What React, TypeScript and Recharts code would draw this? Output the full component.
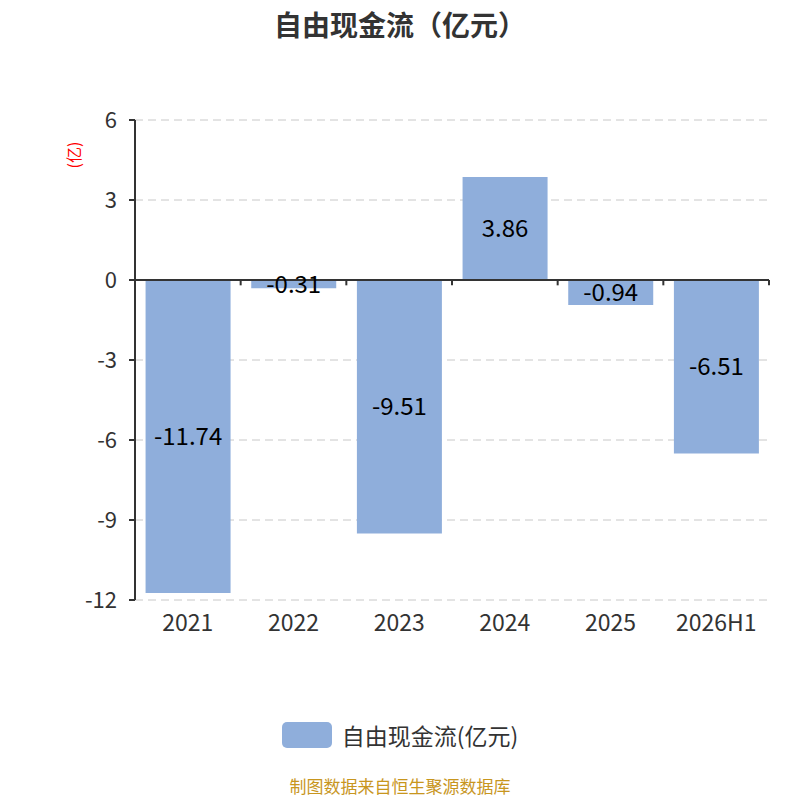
import React from "react";
import {
  BarChart,
  Bar,
  XAxis,
  YAxis,
  CartesianGrid,
  LabelList,
  Legend,
  ReferenceLine,
} from "recharts";

const categories = ["2021", "2022", "2023", "2024", "2025", "2026H1"];
const freeCashFlow = [-11.74, -0.31, -9.51, 3.86, -0.94, -6.51];
const yTicks = [-12, -9, -6, -3, 0, 3, 6];
const seriesName = "自由现金流(亿元)";
const titleText = "自由现金流（亿元）";
const unitText = "(亿)";
const sourceText = "制图数据来自恒生聚源数据库";

const data = categories.map((c, i) => ({ name: c, value: freeCashFlow[i], idx: i + 0.5 }));
const boundaries = categories.map((_, i) => i + 1);

const FONT = '"Noto Sans CJK SC", "Noto Sans", sans-serif';
const BAR_COLOR = "#8FAEDB";
const AXIS_COLOR = "#333333";

const LegendContent = () => (
  <div
    style={{
      display: "flex",
      justifyContent: "center",
      alignItems: "center",
      fontFamily: FONT,
      fontSize: 23,
      color: "#333",
      height: 30,
    }}
  >
    <div
      style={{
        width: 50,
        height: 26,
        borderRadius: 5,
        background: BAR_COLOR,
        marginRight: 10,
      }}
    />
    <span style={{ lineHeight: "30px" }}>{seriesName}</span>
  </div>
);

const UnitLabel = (props: any) => {
  const vb = props.viewBox || { x: 0, y: 120 };
  const x = vb.x + 73;
  const y = vb.y + 35;
  return (
    <text
      x={x}
      y={y}
      transform={`rotate(-90, ${x}, ${y})`}
      textAnchor="middle"
      dominantBaseline="central"
      fill="#ff0000"
      fontSize={16}
      fontFamily={FONT}
    >
      {unitText}
    </text>
  );
};

export default function App() {
  return (
    <div
      style={{
        position: "absolute",
        left: 0,
        top: 0,
        width: 800,
        height: 800,
        background: "#fff",
        fontFamily: FONT,
      }}
    >
      <div
        style={{
          position: "absolute",
          top: 4,
          left: 0,
          width: 800,
          textAlign: "center",
          fontSize: 28,
          fontWeight: "bold",
          color: "#333",
          lineHeight: "40px",
        }}
      >
        {titleText}
      </div>
      <BarChart
        width={800}
        height={800}
        data={data}
        margin={{ top: 120, right: 31, left: 0, bottom: 90 }}
        barCategoryGap="10%"
      >
        <CartesianGrid
          vertical={false}
          stroke="#c8c8c8"
          strokeDasharray="8 5"
        />
        <XAxis
          dataKey="name"
          axisLine={false}
          tickLine={false}
          tick={{ fill: "#333", fontSize: 23, fontFamily: FONT }}
          tickSize={6}
          tickMargin={9}
          height={80}
        />
        <XAxis
          xAxisId="num"
          dataKey="idx"
          type="number"
          domain={[0, categories.length]}
          allowDataOverflow
          hide
        />
        <YAxis
          domain={[-12, 6]}
          ticks={yTicks}
          interval={0}
          width={135}
          axisLine={{ stroke: AXIS_COLOR, strokeWidth: 2 }}
          tickLine={{ stroke: AXIS_COLOR, strokeWidth: 2 }}
          tickSize={6}
          tickMargin={12}
          tick={{ fill: "#333", fontSize: 22, fontFamily: FONT }}
          label={<UnitLabel />}
        />
        <Bar
          dataKey="value"
          name={seriesName}
          fill={BAR_COLOR}
          isAnimationActive={false}
        >
          <LabelList
            dataKey="value"
            position="center"
            fill="#000"
            fontSize={24}
            fontFamily={FONT}
          />
        </Bar>
        <ReferenceLine y={0} stroke={AXIS_COLOR} strokeWidth={2} />
        {boundaries.map((b) => (
          <ReferenceLine
            key={b}
            xAxisId="num"
            segment={[
              { x: b, y: 0 },
              { x: b, y: -0.2 },
            ]}
            stroke={AXIS_COLOR}
            strokeWidth={2}
            ifOverflow="visible"
          />
        ))}
        <Legend
          content={<LegendContent />}
          wrapperStyle={{ position: "absolute", top: 720, left: 0, width: 800 }}
        />
      </BarChart>
      <div
        style={{
          position: "absolute",
          top: 776,
          left: 0,
          width: 800,
          textAlign: "center",
          fontSize: 17,
          color: "#C8961E",
          lineHeight: "20px",
        }}
      >
        {sourceText}
      </div>
    </div>
  );
}
